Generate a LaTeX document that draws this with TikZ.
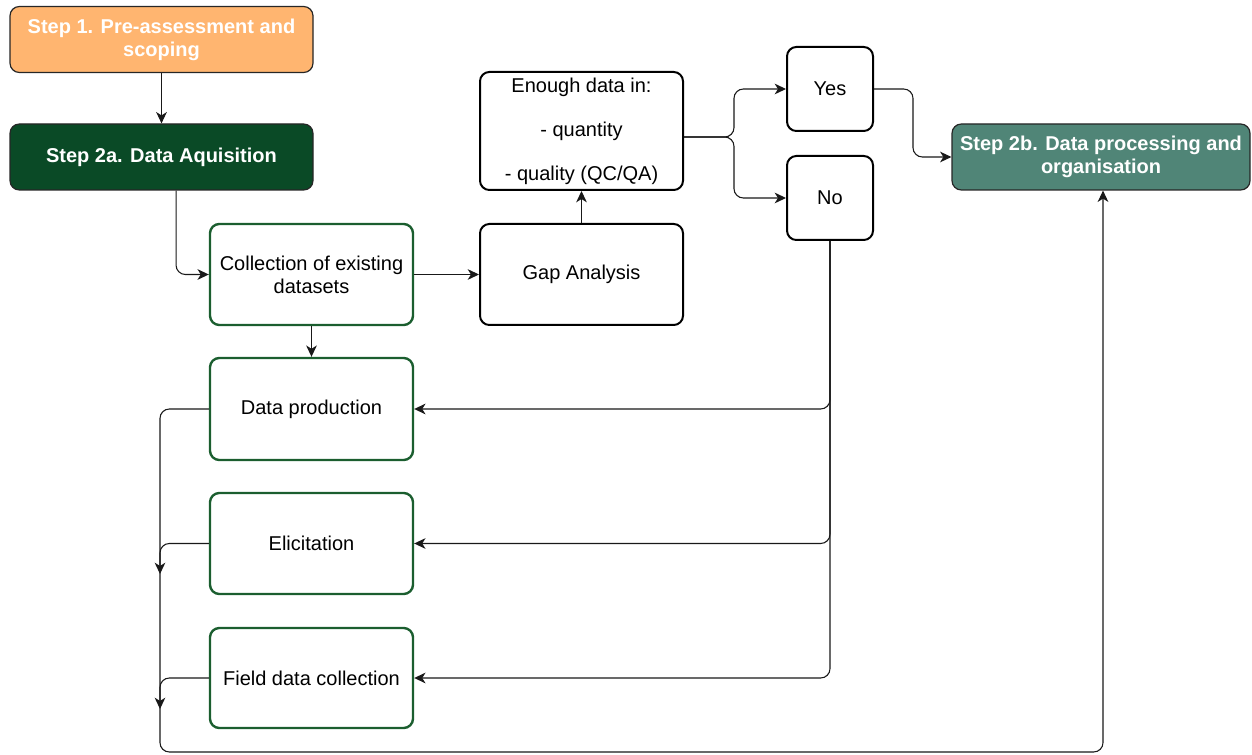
\documentclass[tikz,border=0pt]{standalone}
\usepackage{fontspec}
\setmainfont{Liberation Sans}
\usetikzlibrary{arrows.meta}
\definecolor{orangefill}{HTML}{FFB570}
\definecolor{darkgreen}{HTML}{0A4A26}
\definecolor{tealfill}{HTML}{508577}
\definecolor{greenborder}{HTML}{1B5E2F}
\tikzset{
  base/.style={rectangle, rounded corners=7pt, inner sep=2pt, align=center,
    font=\fontsize{15}{17.25}\selectfont},
  stepbox/.style={base, draw=black!85, line width=0.9pt, text=white,
    font=\fontsize{15}{17.25}\selectfont\bfseries,
    minimum width=303*0.75pt, minimum height=66*0.75pt},
  greenbox/.style={base, draw=greenborder, line width=1.8pt,
    minimum width=203*0.75pt, minimum height=101*0.75pt},
  blackbox/.style={base, draw=black, line width=1.5pt,
    minimum width=203*0.75pt, minimum height=101*0.75pt},
  smallbox/.style={base, draw=black, line width=1.5pt,
    minimum width=86*0.75pt, minimum height=84*0.75pt},
  arr/.style={draw=black!90, line width=0.8pt, rounded corners=7pt,
    -{Stealth[length=8.5pt,width=8pt,inset=2.5pt]}},
  ln/.style={draw=black!90, line width=0.8pt, rounded corners=7pt}
}
\begin{document}
\begin{tikzpicture}[x=0.75pt,y=-0.75pt]
\useasboundingbox (0,0) rectangle (1252,755);

\node[stepbox, fill=orangefill] (s1) at (161.5,39.5) {Step 1. Pre-assessment and\\scoping};
\node[stepbox, fill=darkgreen] (s2a) at (161.5,157) {Step 2a. Data Aquisition};
\node[stepbox, fill=tealfill, minimum width=298*0.75pt] (s2b) at (1101,157) {Step 2b. Data processing and\\organisation};

\node[greenbox] (coll) at (311.5,274.5) {Collection of existing\\datasets};
\node[greenbox, minimum height=102*0.75pt] (dp) at (311.5,409) {Data production};
\node[greenbox] (el) at (311.5,543.5) {Elicitation};
\node[greenbox, minimum height=100*0.75pt] (fd) at (311.5,678) {Field data collection};

\node[blackbox] (gap) at (581.5,274.5) {Gap Analysis};
\node[blackbox, minimum height=118*0.75pt] (en) at (581.5,131) {Enough data in:\\[15.75pt]- quantity\\[15.75pt]- quality (QC/QA)};

\node[smallbox] (yes) at (830,89) {Yes};
\node[smallbox] (no) at (830,198) {No};

\coordinate (bl) at (160,752);
\coordinate (elm) at (160,574);
\coordinate (fdm) at (160,709);

\draw[arr] (s1) -- (s2a);
\draw[arr] ([xshift=10.9pt]s2a.south) |- (coll.west);
\draw[arr] (coll) -- (dp);
\draw[arr] (coll) -- (gap);
\draw[arr] (gap) -- (en);
\draw[arr] ([yshift=-4.5pt]en.east) -- ++(50,0) |- (yes.west);
\draw[arr] ([yshift=-4.5pt]en.east) -- ++(50,0) |- (no.west);
\draw[arr] (yes.east) -- ++(39,0) |- (s2b.west);
\draw[arr] (no.south) |- (dp.east);
\draw[arr] (no.south) |- (el.east);
\draw[arr] (no.south) |- (fd.east);
\draw[arr] (dp.west) -| (bl) -| ([xshift=1.5pt]s2b.south);
\draw[arr] (el.west) -| (elm);
\draw[arr] (fd.west) -| (fdm);
\end{tikzpicture}
\end{document}
